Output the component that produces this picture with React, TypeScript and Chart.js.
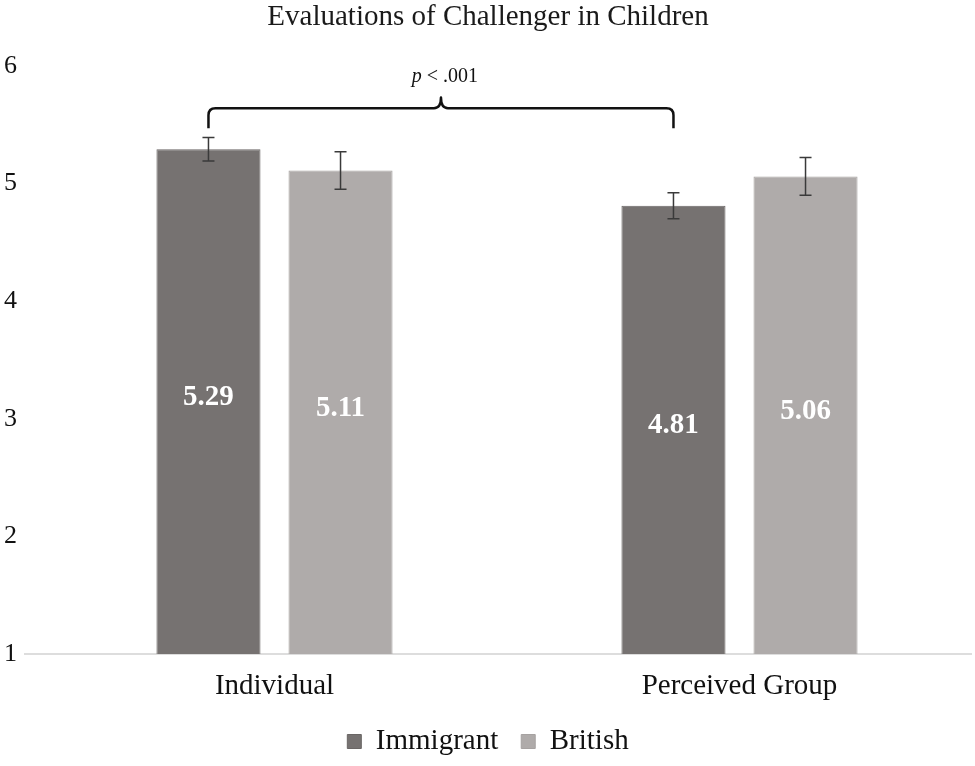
import { useEffect, useRef } from 'react';
import Chart from 'chart.js/auto';

// data
const groups = ['Individual', 'Perceived Group'];
const seriesNames = ['Immigrant', 'British'];
const immigrantMeans = [5.29, 4.81];
const britishMeans = [5.11, 5.06];
const immigrantErr = [0.1, 0.11];
const britishErr = [0.16, 0.16];
const yTicks = [1, 2, 3, 4, 5, 6];
const sigLabel = ['p', ' < .001'];
// bracket levels in axis units
const bracketEnd = 5.47;
const bracketLevel = 5.64;
const bracketPeak = 5.73;
const sigTextLevel = 5.91;

const FONT = '"Liberation Serif", "Times New Roman", serif';
const DARK = '#767271';
const LIGHT = '#afabaa';

const errors = [immigrantErr, britishErr];

const overlayPlugin = {
  id: 'overlay',
  beforeDatasetsDraw(chart: any) {
    const { ctx, chartArea, scales } = chart;
    const yb = scales.y.getPixelForValue(yTicks[0]);
    ctx.save();
    ctx.strokeStyle = '#d2d2d2';
    ctx.lineWidth = 1.5;
    ctx.beginPath();
    ctx.moveTo(chartArea.left - 18, yb);
    ctx.lineTo(chartArea.right, yb);
    ctx.stroke();
    ctx.restore();
  },
  afterDatasetsDraw(chart: any) {
    const { ctx, scales } = chart;
    const y = scales.y;
    const basePx = y.getPixelForValue(yTicks[0]);
    ctx.save();

    // value labels inside bars
    chart.data.datasets.forEach((ds: any, di: number) => {
      const meta = chart.getDatasetMeta(di);
      meta.data.forEach((bar: any, i: number) => {
        ctx.fillStyle = '#ffffff';
        ctx.font = `bold 29px ${FONT}`;
        ctx.textAlign = 'center';
        ctx.textBaseline = 'middle';
        ctx.fillText(ds.data[i].toFixed(2), bar.x, (bar.y + basePx) / 2 - 4);
      });
    });

    // error bars
    chart.data.datasets.forEach((ds: any, di: number) => {
      const meta = chart.getDatasetMeta(di);
      meta.data.forEach((bar: any, i: number) => {
        const v = ds.data[i];
        const e = errors[di][i];
        const top = y.getPixelForValue(v + e);
        const bot = y.getPixelForValue(v - e);
        ctx.strokeStyle = '#3a3a3a';
        ctx.lineWidth = 1.5;
        ctx.beginPath();
        ctx.moveTo(bar.x, top);
        ctx.lineTo(bar.x, bot);
        ctx.moveTo(bar.x - 6, top);
        ctx.lineTo(bar.x + 6, top);
        ctx.moveTo(bar.x - 6, bot);
        ctx.lineTo(bar.x + 6, bot);
        ctx.stroke();
      });
    });

    // significance bracket between the two Immigrant bars
    const imm = chart.getDatasetMeta(0).data;
    const x1 = imm[0].x;
    const x2 = imm[1].x;
    const xm = (x1 + x2) / 2;
    const yEnd = y.getPixelForValue(bracketEnd);
    const yLine = y.getPixelForValue(bracketLevel);
    const yPeak = y.getPixelForValue(bracketPeak);
    const r = 7;
    ctx.strokeStyle = '#111111';
    ctx.lineWidth = 2.5;
    ctx.lineJoin = 'round';
    ctx.beginPath();
    ctx.moveTo(x1, yEnd);
    ctx.lineTo(x1, yLine + r);
    ctx.quadraticCurveTo(x1, yLine, x1 + r, yLine);
    ctx.lineTo(xm - r, yLine);
    ctx.quadraticCurveTo(xm, yLine, xm, yPeak);
    ctx.quadraticCurveTo(xm, yLine, xm + r, yLine);
    ctx.lineTo(x2 - r, yLine);
    ctx.quadraticCurveTo(x2, yLine, x2, yLine + r);
    ctx.lineTo(x2, yEnd);
    ctx.stroke();

    // p < .001
    const ty = y.getPixelForValue(sigTextLevel);
    ctx.fillStyle = '#111111';
    ctx.textBaseline = 'middle';
    ctx.textAlign = 'left';
    ctx.font = `italic 20px ${FONT}`;
    const w1 = ctx.measureText(sigLabel[0]).width;
    ctx.font = `20px ${FONT}`;
    const w2 = ctx.measureText(sigLabel[1]).width;
    const sx = xm - (w1 + w2) / 2 + 4;
    ctx.font = `italic 20px ${FONT}`;
    ctx.fillText(sigLabel[0], sx, ty);
    ctx.font = `20px ${FONT}`;
    ctx.fillText(sigLabel[1], sx + w1, ty);

    ctx.restore();
  },
};

export default function App() {
  const canvasRef = useRef<HTMLCanvasElement | null>(null);
  const chartRef = useRef<Chart | null>(null);

  useEffect(() => {
    document.body.style.margin = '0';
    if (!canvasRef.current) return;
    if (chartRef.current) chartRef.current.destroy();

    chartRef.current = new Chart(canvasRef.current, {
      type: 'bar',
      data: {
        labels: groups,
        datasets: [
          {
            label: seriesNames[0],
            data: immigrantMeans,
            base: yTicks[0],
            backgroundColor: DARK,
            borderColor: '#6a6665',
            borderWidth: 1,
            categoryPercentage: 0.568,
            barPercentage: 0.788,
          },
          {
            label: seriesNames[1],
            data: britishMeans,
            base: yTicks[0],
            backgroundColor: LIGHT,
            borderColor: '#a6a2a1',
            borderWidth: 1,
            categoryPercentage: 0.568,
            barPercentage: 0.788,
          },
        ],
      },
      options: {
        animation: false,
        responsive: true,
        maintainAspectRatio: false,
        layout: { padding: { left: 4, right: 3, top: 0, bottom: 0 } },
        plugins: {
          title: {
            display: true,
            text: 'Evaluations of Challenger in Children',
            color: '#1a1a1a',
            font: { family: FONT, size: 29, weight: 'normal' },
            padding: { top: 0, bottom: 31 },
          },
          legend: {
            position: 'bottom',
            labels: {
              color: '#111111',
              font: { family: FONT, size: 29 },
              boxWidth: 14,
              boxHeight: 14,
              padding: 23,
            },
          },
          tooltip: { enabled: false },
        },
        scales: {
          x: {
            grid: { display: false, drawTicks: false },
            border: { display: false },
            ticks: {
              color: '#111111',
              font: { family: FONT, size: 29 },
              padding: 15,
            },
            afterFit: (axis: any) => {
              axis.height = 50;
              axis.paddingLeft = 0;
              axis.paddingRight = 0;
            },
          },
          y: {
            min: yTicks[0],
            max: yTicks[yTicks.length - 1],
            afterBuildTicks: (axis: any) => {
              axis.ticks = yTicks.map((v) => ({ value: v }));
            },
            afterFit: (axis: any) => {
              axis.width = 38;
            },
            grid: { display: false, drawTicks: false },
            border: { display: false },
            ticks: {
              color: '#111111',
              font: { family: FONT, size: 26 },
              padding: 25,
            },
          },
        },
      },
      plugins: [overlayPlugin],
    } as any);

    return () => {
      if (chartRef.current) {
        chartRef.current.destroy();
        chartRef.current = null;
      }
    };
  }, []);

  return (
    <div style={{ width: 975, height: 766, position: 'relative', background: '#ffffff' }}>
      <canvas ref={canvasRef} />
    </div>
  );
}
